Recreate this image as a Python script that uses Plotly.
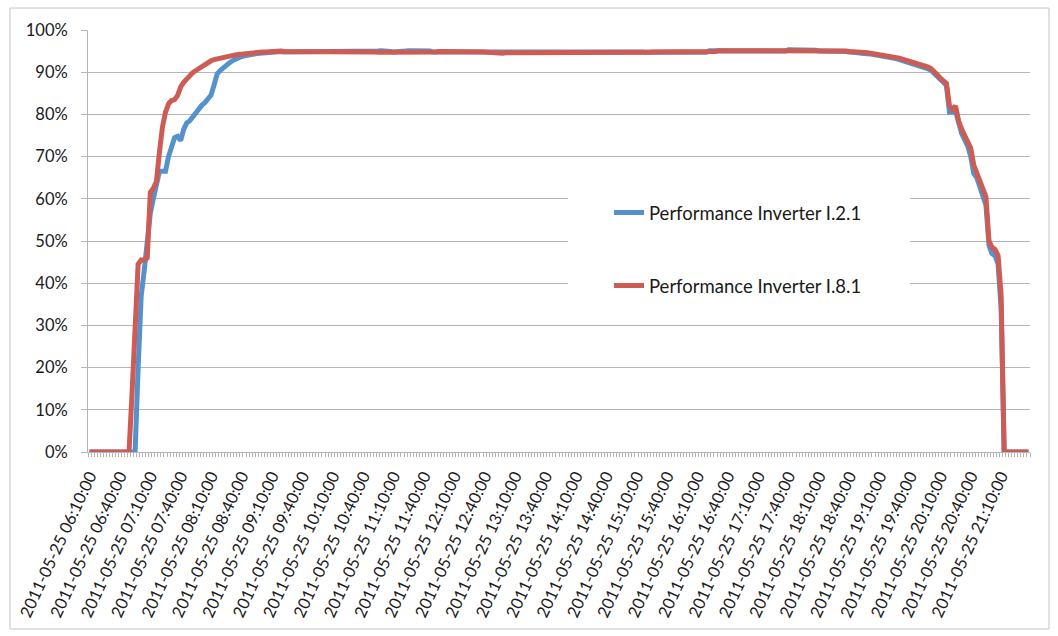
import pandas as pd
import plotly.graph_objects as go

start_time = "2011-05-25 06:10:00"
n_points = 310
step = "3min"
times = pd.date_range(start=start_time, periods=n_points, freq=step)

perf_i21 = [
    0, 0, 0, 0, 0, 0, 0, 0, 0, 0,
    0, 0, 0, 0, 0, 0, 20, 37, 43, 51,
    56.5, 60, 63.5, 66.5, 66.5, 66.5, 70, 72.5, 74.5, 74.8,
    73.8, 76.5, 78, 78.5, 79.5, 80.6, 81.5, 82.2, 82.8, 83.5,
    84.6, 87, 89.6, 90.4, 91.1, 91.7, 92.2, 92.7, 93.1, 93.4,
    93.7, 93.9, 94.1, 94.2, 94.3, 94.4, 94.5, 94.6, 94.7, 94.8,
    94.8, 94.8, 94.9, 94.9, 94.8, 94.8, 94.9, 94.9, 94.8, 94.8,
    94.8, 94.9, 94.8, 94.8, 94.8, 94.9, 94.9, 94.8, 94.8, 94.8,
    94.8, 94.8, 94.9, 94.8, 94.8, 94.8, 94.8, 94.8, 94.9, 94.8,
    94.8, 94.8, 94.8, 94.9, 94.9, 95.0, 95.1, 95.1, 95.0, 94.9,
    94.8, 94.8, 94.8, 94.9, 95.0, 95.1, 95.1, 95.1, 95.1, 95.1,
    95.1, 95.0, 95.0, 94.8, 94.8, 94.8, 94.8, 94.8, 94.8, 94.8,
    94.8, 94.9, 94.8, 94.8, 94.8, 94.8, 94.9, 94.8, 94.8, 94.8,
    94.8, 94.9, 95.0, 94.9, 95.0, 94.9, 95.0, 94.9, 95.0, 94.9,
    95.0, 94.9, 95.0, 94.9, 95.0, 94.9, 95.0, 94.9, 95.0, 94.9,
    95.0, 95.0, 94.9, 95.0, 95.0, 94.9, 95.0, 95.0, 94.9, 95.0,
    95.0, 94.9, 95.0, 95.0, 94.9, 95.0, 95.0, 94.9, 95.0, 95.0,
    94.9, 95.0, 95.0, 94.9, 95.0, 95.0, 94.9, 95.0, 95.0, 94.9,
    95.0, 94.9, 94.8, 94.7, 94.7, 94.7, 94.7, 94.7, 94.7, 94.7,
    94.7, 94.7, 94.7, 94.7, 94.7, 94.7, 94.7, 94.7, 94.7, 94.7,
    94.7, 94.7, 94.7, 94.7, 95.1, 95.1, 95.2, 95.2, 95.1, 95.0,
    95.0, 95.0, 95.0, 95.0, 95.0, 95.0, 95.0, 95.0, 95.0, 95.0,
    95.0, 95.0, 95.0, 95.0, 95.0, 95.0, 95.0, 95.0, 95.0, 95.0,
    95.3, 95.3, 95.4, 95.3, 95.4, 95.3, 95.4, 95.3, 95.3, 95.2,
    95.0, 95.0, 95.1, 95.1, 95.0, 95.0, 94.9, 94.9, 94.9, 94.9,
    94.8, 94.8, 94.6, 94.6, 94.5, 94.5, 94.4, 94.3, 94.2, 94.1,
    94.0, 93.9, 93.8, 93.6, 93.5, 93.3, 93.1, 92.9, 92.7, 92.5,
    92.3, 92.1, 91.9, 91.7, 91.4, 91.1, 90.8, 90.4, 89.8, 89.0,
    88.3, 87.6, 86.8, 80.5, 80.5, 80.8, 78.0, 75.5, 74.0, 72.5,
    70.0, 66.0, 65.0, 63.0, 61.0, 58.5, 49.0, 47.0, 46.5, 44.5,
    34.0, 0, 0, 0, 0, 0, 0, 0, 0, 0,
]

perf_i81 = [
    0, 0, 0, 0, 0, 0, 0, 0, 0, 0,
    0, 0, 0, 0, 14, 29, 44.5, 45.5, 45.5, 46,
    61.5, 62.5, 64, 71, 77, 80.5, 82.5, 83.3, 83.5, 84.5,
    86.5, 87.6, 88.5, 89.3, 89.9, 90.4, 90.9, 91.5, 92.0, 92.4,
    92.7, 93.0, 93.2, 93.4, 93.6, 93.8, 93.9, 94.0, 94.1, 94.2,
    94.3, 94.4, 94.5, 94.6, 94.6, 94.7, 94.7, 94.8, 94.8, 94.9,
    94.9, 94.9, 95.0, 95.0, 94.9, 94.9, 95.0, 95.0, 94.9, 94.9,
    94.9, 95.0, 94.9, 94.9, 94.9, 95.0, 95.0, 94.9, 94.9, 94.9,
    94.9, 94.9, 95.0, 94.9, 94.9, 94.9, 94.9, 94.9, 95.0, 94.9,
    94.9, 94.9, 94.8, 94.8, 94.8, 94.7, 94.7, 94.7, 94.8, 94.8,
    94.8, 94.8, 94.7, 94.7, 94.7, 94.6, 94.6, 94.7, 94.6, 94.6,
    94.7, 94.7, 94.7, 94.8, 94.8, 94.9, 94.9, 94.9, 94.9, 94.9,
    94.9, 95.0, 94.9, 94.9, 94.9, 94.9, 95.0, 94.9, 94.9, 94.9,
    94.8, 94.7, 94.6, 94.6, 94.6, 94.6, 94.5, 94.6, 94.6, 94.6,
    94.6, 94.6, 94.5, 94.6, 94.6, 94.6, 94.6, 94.6, 94.6, 94.6,
    94.6, 94.7, 94.7, 94.7, 94.7, 94.7, 94.7, 94.7, 94.7, 94.7,
    94.7, 94.7, 94.7, 94.7, 94.7, 94.6, 94.7, 94.7, 94.7, 94.7,
    94.7, 94.7, 94.7, 94.7, 94.7, 94.7, 94.7, 94.7, 94.7, 94.7,
    94.7, 94.7, 94.7, 94.7, 94.7, 94.8, 94.8, 94.8, 94.8, 94.8,
    94.8, 94.8, 94.8, 94.8, 94.8, 94.8, 94.8, 94.8, 94.8, 94.8,
    94.8, 94.8, 94.8, 94.8, 94.8, 94.8, 94.9, 95.1, 95.1, 95.1,
    95.1, 95.1, 95.0, 95.1, 95.1, 95.1, 95.1, 95.0, 95.1, 95.1,
    95.1, 95.1, 95.1, 95.1, 95.0, 95.1, 95.1, 95.1, 95.1, 95.1,
    95.1, 95.1, 95.1, 95.1, 95.1, 95.1, 95.1, 95.1, 95.1, 95.1,
    95.1, 95.1, 95.2, 95.2, 95.1, 95.1, 95.0, 95.0, 95.0, 95.0,
    94.9, 94.9, 94.8, 94.8, 94.7, 94.7, 94.6, 94.5, 94.4, 94.3,
    94.2, 94.1, 94.0, 93.9, 93.7, 93.6, 93.4, 93.2, 93.0, 92.8,
    92.6, 92.4, 92.2, 92.0, 91.8, 91.5, 91.2, 90.8, 90.2, 89.4,
    88.6, 88.0, 87.3, 82.0, 81.2, 82.0, 78.5, 76.5, 74.8, 73.8,
    72.0, 68.0, 66.0, 64.5, 62.5, 60.5, 50.0, 48.5, 48.0, 46.5,
    37.0, 0, 0, 0, 0, 0, 0, 0, 0, 0,
]

series_names = ["Performance Inverter I.2.1", "Performance Inverter I.8.1"]
series_colors = ["#5592CD", "#CD5C54"]

FONT = "Lato"
GRID = "#B5B5B5"
TXT = "#1a1a1a"

# plot area in pixels (for paper-coordinate conversions)
L, R, T, B = 88, 1030, 30, 452
PW, PH = R - L, B - T


def px(x):
    return (x - L) / PW


def py(y):
    return (B - y) / PH


fig = go.Figure()
fig.add_trace(go.Scatter(
    x=times, y=perf_i21, mode="lines", name=series_names[0],
    line=dict(color=series_colors[0], width=5), legend="legend",
))
fig.add_trace(go.Scatter(
    x=times, y=perf_i81, mode="lines", name=series_names[1],
    line=dict(color=series_colors[1], width=5), legend="legend2",
))

half = pd.Timedelta(minutes=1.5)
fig.update_xaxes(
    type="date",
    range=[times[0] - half, times[-1] + half],
    tick0=start_time,
    dtick=30 * 60 * 1000,
    tickformat="%Y-%m-%d %H:%M:%S",
    tickangle=-65,
    ticks="",
    ticklabelstandoff=7,
    tickfont=dict(family=FONT, size=16.5, color=TXT),
    automargin=False,
    showgrid=False,
    showline=True, linecolor=GRID, linewidth=1,
    minor=dict(ticks="outside", ticklen=4, tickcolor=GRID, tickwidth=1,
               tick0=str(times[0] - half), dtick=3 * 60 * 1000, showgrid=False),
    zeroline=False,
)
fig.update_yaxes(
    range=[0, 100], dtick=10, ticksuffix="%",
    showgrid=True, gridcolor=GRID, gridwidth=1,
    showline=True, linecolor=GRID, linewidth=1,
    ticks="outside", ticklen=6, tickcolor=GRID,
    ticklabelstandoff=10,
    tickfont=dict(family=FONT, size=16.5, color=TXT),
    automargin=False,
    zeroline=False,
)

legend_common = dict(
    xref="paper", yref="paper", xanchor="left", yanchor="middle",
    bgcolor="rgba(0,0,0,0)", borderwidth=0,
    font=dict(family=FONT, size=18.5, color=TXT),
)
fig.update_layout(
    width=1058, height=636,
    margin=dict(l=L, r=1058 - R, t=T, b=636 - B, autoexpand=False),
    paper_bgcolor="white", plot_bgcolor="white",
    legend=dict(x=px(609), y=py(213), **legend_common),
    legend2=dict(x=px(609), y=py(286), **legend_common),
    showlegend=True,
    shapes=[
        dict(type="rect", xref="paper", yref="paper",
             x0=px(568), x1=px(910), y0=py(315), y1=py(165),
             fillcolor="white", line=dict(width=0), layer="above"),
        dict(type="rect", xref="paper", yref="paper",
             x0=px(10), x1=px(1049), y0=py(629), y1=py(8),
             fillcolor="rgba(0,0,0,0)", line=dict(color="#C4C4C4", width=1),
             layer="above"),
    ],
)

fig.write_html("out.html")
